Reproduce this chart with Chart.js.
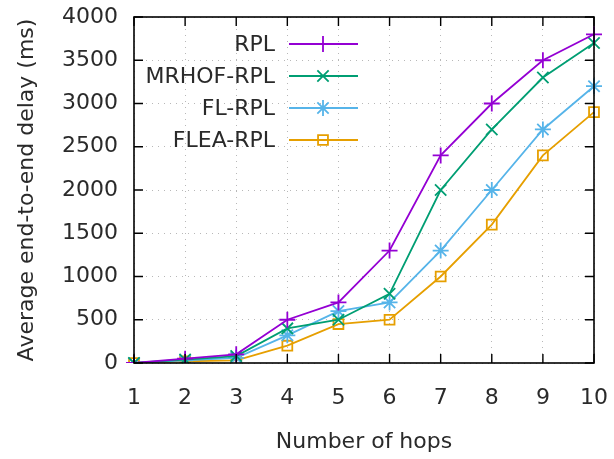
<!DOCTYPE html>
<html>
<head>
<meta charset="utf-8">
<script src="https://cdn.jsdelivr.net/npm/chart.js@4/dist/chart.umd.min.js"></script>
<style>
  html, body { margin: 0; padding: 0; background: #fff; }
  #wrap { width: 614px; height: 459px; }
</style>
</head>
<body>
<div id="wrap"><canvas id="delayChart" width="614" height="459"></canvas></div>
<script>
var hops = ['1', '2', '3', '4', '5', '6', '7', '8', '9', '10'];
var rplDelay = [0, 50, 100, 500, 700, 1300, 2400, 3000, 3500, 3800];
var mrhofDelay = [0, 40, 80, 400, 500, 800, 2000, 2700, 3300, 3700];
var flDelay = [0, 30, 60, 320, 600, 700, 1300, 2000, 2700, 3200];
var fleaDelay = [0, 20, 30, 200, 450, 500, 1000, 1600, 2400, 2900];
var yTicks = [0, 500, 1000, 1500, 2000, 2500, 3000, 3500, 4000];

var fontName = "'DejaVu Sans', Verdana, sans-serif";
var textColor = '#2a2a2a';

const makeSet = (label, data, color, style) => {
    return {
        label: label,
        data: data,
        borderColor: color,
        backgroundColor: style === 'rect' ? 'rgba(0,0,0,0)' : color,
        pointBorderColor: color,
        pointStyle: style,
        pointRadius: style === 'rect' ? 7 : 8,
        pointBorderWidth: 1.8,
        borderWidth: 1.8,
        tension: 0,
        fill: false,
    };
}

// gnuplot style: ticks pointing inward on every side, legend inside top-left
var gnuplotBits = {
    id: 'gnuplotBits',
    afterDraw: (chart) => {
        const ctx = chart.ctx;
        const area = chart.chartArea;
        const xs = chart.scales.x;
        const ys = chart.scales.y;
        ctx.save();
        ctx.strokeStyle = '#000';
        ctx.lineWidth = 1.4;
        ctx.beginPath();
        for (let i = 0; i < hops.length; i++) {
            let px = xs.getPixelForValue(i);
            ctx.moveTo(px, area.bottom); ctx.lineTo(px, area.bottom - 9);
            ctx.moveTo(px, area.top); ctx.lineTo(px, area.top + 9);
        }
        for (const v of yTicks) {
            let py = ys.getPixelForValue(v);
            ctx.moveTo(area.left, py); ctx.lineTo(area.left + 9, py);
            ctx.moveTo(area.right, py); ctx.lineTo(area.right - 9, py);
        }
        ctx.stroke();
        ctx.lineWidth = 1.6;
        ctx.strokeRect(area.left, area.top, area.right - area.left, area.bottom - area.top);

        // legend
        ctx.font = '22px ' + fontName;
        ctx.textAlign = 'right';
        ctx.textBaseline = 'middle';
        chart.data.datasets.forEach((ds, i) => {
            let y = 44 + i * 32;
            ctx.fillStyle = textColor;
            ctx.fillText(ds.label, 275, y + 1);
            ctx.strokeStyle = ds.borderColor;
            ctx.lineWidth = ds.borderWidth;
            ctx.beginPath();
            ctx.moveTo(289, y); ctx.lineTo(358, y);
            ctx.stroke();
            ctx.fillStyle = ds.backgroundColor;
            Chart.helpers.drawPoint(ctx, {
                pointStyle: ds.pointStyle,
                radius: ds.pointRadius,
                borderWidth: ds.pointBorderWidth,
                rotation: 0
            }, 323, y);
        });
        ctx.restore();
    }
}

var delayConfig = {
    type: 'line',
    data: {
        labels: hops,
        datasets: [
            makeSet('RPL', rplDelay, '#9400d3', 'cross'),
            makeSet('MRHOF-RPL', mrhofDelay, '#009e73', 'crossRot'),
            makeSet('FL-RPL', flDelay, '#56b4e9', 'star'),
            makeSet('FLEA-RPL', fleaDelay, '#e69f00', 'rect'),
        ],
    },
    options: {
        responsive: false,
        animation: false,
        layout: { padding: { top: 17, right: 20, left: 0, bottom: 0 } },
        plugins: {
            legend: { display: false },
            tooltip: { enabled: false },
        },
        scales: {
            x: {
                type: 'category',
                offset: false,
                grid: { color: '#b8b8b8', drawTicks: false },
                border: { display: false, dash: [1, 5] },
                ticks: { color: textColor, font: { family: fontName, size: 22 }, padding: 22, maxRotation: 0 },
                title: { display: true, text: 'Number of hops', color: textColor, font: { family: fontName, size: 22 }, padding: { top: 6, bottom: 4 } },
                afterFit: (s) => { s.height = 96; s.paddingLeft = 0; s.paddingRight = 0; },
            },
            y: {
                min: 0,
                max: 4000,
                grid: { color: '#b8b8b8', drawTicks: false },
                border: { display: false, dash: [1, 5] },
                afterBuildTicks: (s) => { s.ticks = yTicks.map(v => ({ value: v })); },
                ticks: { color: textColor, font: { family: fontName, size: 22 }, padding: 16, callback: (v) => String(v) },
                title: { display: true, text: 'Average end-to-end delay (ms)', color: textColor, font: { family: fontName, size: 22 }, padding: { top: 14, bottom: 4 } },
                afterFit: (s) => { s.width = 134; s.paddingTop = 0; s.paddingBottom = 0; },
            },
        },
    },
    plugins: [gnuplotBits],
}

var delayCtx = document.getElementById('delayChart');
window.delayChart = new Chart(delayCtx, delayConfig);
</script>
</body>
</html>
